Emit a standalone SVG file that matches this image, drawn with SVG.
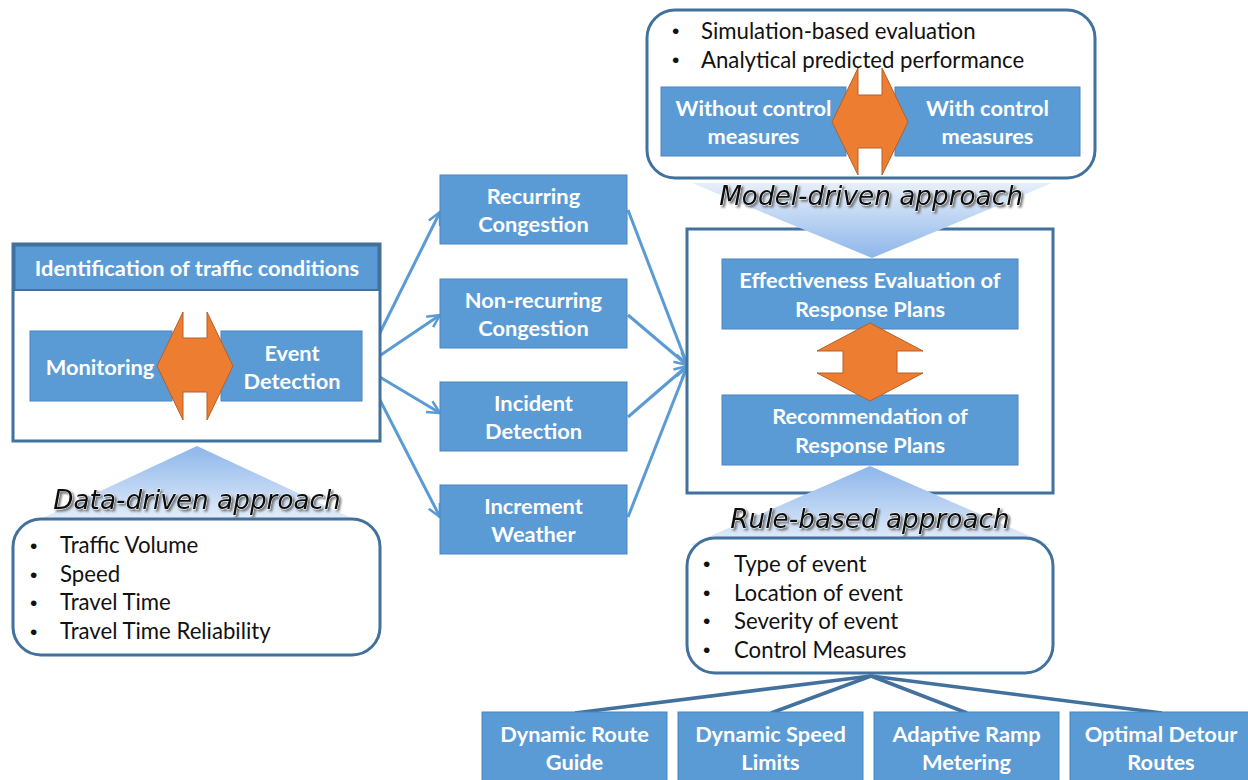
<svg xmlns="http://www.w3.org/2000/svg" width="1248" height="780" viewBox="0 0 1248 780">
<defs>
<style>
.cont{fill:#fff;stroke:#41719C;stroke-width:3}
.box{fill:#5B9BD5;stroke:#4A86C0;stroke-width:1}
.bt{font-family:Lato,"Liberation Sans",sans-serif;font-weight:bold;font-size:21.8px;fill:#fff;text-anchor:middle}
.bl{font-family:Lato,"Liberation Sans",sans-serif;font-size:22.2px;fill:#111}
.bu{font-family:"Liberation Sans",sans-serif;font-size:21px;fill:#111}
.app{font-family:"DejaVu Sans",sans-serif;font-style:italic;font-size:26.3px;fill:#111;stroke:#fff;stroke-width:0.8;paint-order:stroke;text-anchor:middle;filter:url(#sh)}
.orn{fill:#ED7D31;stroke:#B5602A;stroke-width:1}
.con{stroke:#5B9BD5;stroke-width:3;fill:none;marker-end:url(#ah)}
.fan{stroke:#41719C;stroke-width:3.5;fill:none}
</style>
<marker id="ah" viewBox="0 0 12 12" refX="11" refY="6" markerWidth="15" markerHeight="15" markerUnits="userSpaceOnUse" orient="auto">
<path d="M1,1 L11,6 L1,11" fill="none" stroke="#5B9BD5" stroke-width="2"/>
</marker>
<linearGradient id="gUp" x1="0" y1="0" x2="0" y2="1">
<stop offset="0" stop-color="#8DB6EA"/>
<stop offset="1" stop-color="#E6EFFA"/>
</linearGradient>
<linearGradient id="gDn" x1="0" y1="0" x2="0" y2="1">
<stop offset="0" stop-color="#E6EFFA"/>
<stop offset="1" stop-color="#8DB6EA"/>
</linearGradient>
<filter id="sh" x="-10%" y="-30%" width="120%" height="160%">
<feDropShadow dx="2" dy="2" stdDeviation="1.2" flood-color="#666" flood-opacity="0.9"/>
</filter>
</defs>

<g id="connectors">
<line class="con" x1="363" y1="367" x2="440" y2="212"/>
<line class="con" x1="363" y1="367" x2="440" y2="315"/>
<line class="con" x1="363" y1="367" x2="440" y2="413"/>
<line class="con" x1="363" y1="367" x2="440" y2="517"/>
<line class="con" x1="628" y1="210" x2="687" y2="364"/>
<line class="con" x1="628" y1="315" x2="687" y2="365"/>
<line class="con" x1="628" y1="417" x2="687" y2="366"/>
<line class="con" x1="628" y1="517" x2="687" y2="367"/>
<line class="fan" x1="871" y1="676" x2="575" y2="713"/>
<line class="fan" x1="871" y1="676" x2="771" y2="713"/>
<line class="fan" x1="871" y1="676" x2="967" y2="713"/>
<line class="fan" x1="871" y1="676" x2="1162" y2="713"/>
</g>

<g id="identification">
<rect class="cont" x="13" y="244" width="367" height="197"/>
<rect x="14.5" y="245.5" width="364" height="44.5" fill="#5B9BD5" stroke="#41719C" stroke-width="2"/>
<text class="bt" x="197" y="275.5">Identification of traffic conditions</text>
</g>
<g id="monitoring">
<rect class="box" x="30" y="331" width="142" height="70"/>
<text class="bt" x="100" y="374.5">Monitoring</text>
</g>
<g id="event-detection">
<rect class="box" x="221" y="331" width="141" height="70"/>
<text class="bt" x="292" y="360.5">Event</text>
<text class="bt" x="292" y="388.5">Detection</text>
</g>
<g id="arrow-left">
<polygon class="orn" points="183,312 183,338 207,338 207,312 233,366 207,420 207,392 183,392 183,420 157,366"/>
</g>

<g id="data-driven">
<polygon points="197,446 34,522 360,522" fill="url(#gUp)"/>
<text class="app" x="197" y="509">Data-driven approach</text>
</g>
<g id="data-list">
<rect class="cont" x="13" y="519" width="367" height="136" rx="28"/>
<text class="bu" x="30" y="553">•</text><text class="bl" x="60" y="553">Traffic Volume</text>
<text class="bu" x="30" y="582">•</text><text class="bl" x="60" y="582">Speed</text>
<text class="bu" x="30" y="610">•</text><text class="bl" x="60" y="610">Travel Time</text>
<text class="bu" x="30" y="639">•</text><text class="bl" x="60" y="639">Travel Time Reliability</text>
</g>

<g id="recurring">
<rect class="box" x="440" y="175" width="187" height="69"/>
<text class="bt" x="533.5" y="203.5">Recurring</text>
<text class="bt" x="533.5" y="231.5">Congestion</text>
</g>
<g id="non-recurring">
<rect class="box" x="440" y="279" width="187" height="69"/>
<text class="bt" x="533.5" y="307.5">Non-recurring</text>
<text class="bt" x="533.5" y="335.5">Congestion</text>
</g>
<g id="incident">
<rect class="box" x="440" y="382" width="187" height="69"/>
<text class="bt" x="533.5" y="410.5">Incident</text>
<text class="bt" x="533.5" y="438.5">Detection</text>
</g>
<g id="weather">
<rect class="box" x="440" y="485" width="187" height="69"/>
<text class="bt" x="533.5" y="513.5">Increment</text>
<text class="bt" x="533.5" y="541.5">Weather</text>
</g>

<g id="model-box">
<rect class="cont" x="647" y="10" width="448" height="168" rx="28"/>
<text class="bu" x="672" y="38">•</text><text class="bl" x="701" y="38.5">Simulation-based evaluation</text>
<text class="bu" x="672" y="67">•</text><text class="bl" x="701" y="67.5">Analytical predicted performance</text>
</g>
<g id="without">
<rect class="box" x="661" y="87" width="185" height="69"/>
<text class="bt" x="753.5" y="115.5">Without control</text>
<text class="bt" x="753.5" y="143.5">measures</text>
</g>
<g id="with">
<rect class="box" x="895" y="87" width="185" height="69"/>
<text class="bt" x="987.5" y="115.5">With control</text>
<text class="bt" x="987.5" y="143.5">measures</text>
</g>
<g id="arrow-top">
<polygon class="orn" points="858,68 858,95 882,95 882,68 908,122 882,175 882,148 858,148 858,175 832,122"/>
</g>

<g id="response">
<rect class="cont" x="687" y="229" width="366" height="264"/>
</g>
<g id="model-driven">
<polygon points="692,183 1052,183 872,258" fill="url(#gDn)"/>
<text class="app" x="871" y="205">Model-driven approach</text>
</g>
<g id="effectiveness">
<rect class="box" x="722" y="259" width="296" height="70"/>
<text class="bt" x="870" y="287.5">Effectiveness Evaluation of</text>
<text class="bt" x="870" y="316.5">Response Plans</text>
</g>
<g id="recommendation">
<rect class="box" x="722" y="395" width="296" height="70"/>
<text class="bt" x="870" y="423.5">Recommendation of</text>
<text class="bt" x="870" y="452.5">Response Plans</text>
</g>
<g id="arrow-mid">
<polygon class="orn" points="870,323 923,351 897,351 897,373 923,373 870,401 817,373 843,373 843,351 817,351"/>
</g>

<g id="rule-based">
<polygon points="870,466 690,545 1050,545" fill="url(#gUp)"/>
<text class="app" x="870" y="528">Rule-based approach</text>
</g>
<g id="rule-list">
<rect class="cont" x="687" y="538" width="366" height="135" rx="28"/>
<text class="bu" x="703" y="571">•</text><text class="bl" x="734" y="571.5">Type of event</text>
<text class="bu" x="703" y="600">•</text><text class="bl" x="734" y="600.5">Location of event</text>
<text class="bu" x="703" y="628">•</text><text class="bl" x="734" y="628.5">Severity of event</text>
<text class="bu" x="703" y="657">•</text><text class="bl" x="734" y="657.5">Control Measures</text>
</g>

<g id="route-guide">
<rect class="box" x="482" y="712" width="185" height="70"/>
<text class="bt" x="574.5" y="741.5">Dynamic Route</text>
<text class="bt" x="574.5" y="769.5">Guide</text>
</g>
<g id="speed-limits">
<rect class="box" x="678" y="712" width="185" height="70"/>
<text class="bt" x="770.5" y="741.5">Dynamic Speed</text>
<text class="bt" x="770.5" y="769.5">Limits</text>
</g>
<g id="ramp-metering">
<rect class="box" x="874" y="712" width="185" height="70"/>
<text class="bt" x="966.5" y="741.5">Adaptive Ramp</text>
<text class="bt" x="966.5" y="769.5">Metering</text>
</g>
<g id="detour-routes">
<rect class="box" x="1070" y="712" width="185" height="70"/>
<text class="bt" x="1161" y="741.5">Optimal Detour</text>
<text class="bt" x="1161" y="769.5">Routes</text>
</g>
</svg>
